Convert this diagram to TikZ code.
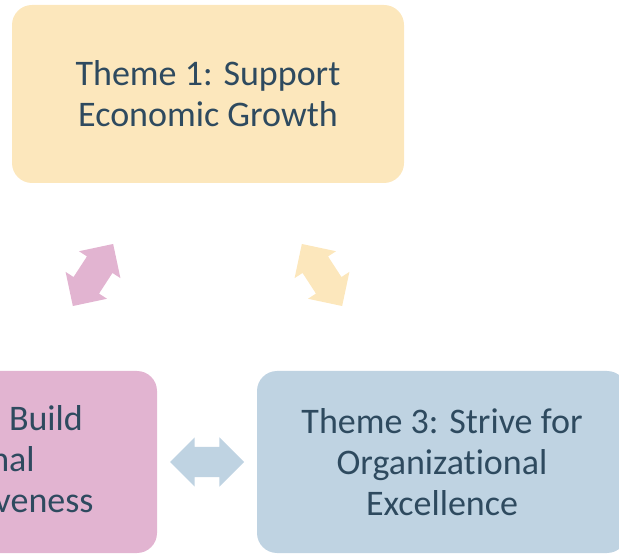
\documentclass[tikz,border=0pt]{standalone}
\usepackage{fontspec}
\setmainfont{Carlito}[Ligatures={NoCommon}]
\usetikzlibrary{calc,shapes.arrows}

\definecolor{themeyellow}{HTML}{FCE7BC}
\definecolor{themepink}{HTML}{E2B4D1}
\definecolor{themeblue}{HTML}{BFD3E2}
\definecolor{themetext}{HTML}{2E4A5F}

\tikzset{
  themebox/.style={rounded corners=20pt, inner sep=0pt, align=center,
    text=themetext, font=\fontsize{36}{41}\selectfont},
  cyclearrow/.style={double arrow, double arrow tip angle=90,
    double arrow head extend=9.5pt, minimum height=74pt,
    inner xsep=0pt, inner ysep=15pt}
}

\begin{document}
\begin{tikzpicture}[x=1pt,y=1pt]
\useasboundingbox (0,0) rectangle (619,555);
\clip (0,0) rectangle (619,555);
% the three themes
\node[themebox, fill=themeyellow, minimum width=392pt, minimum height=178pt] (growth) at (208,461) {Theme 1: Support\\Economic Growth};
\node[themebox, fill=themepink, minimum width=370pt, minimum height=182pt] (regional) at (-28,93) {Theme 2: Build\\Regional\\Competitiveness};
\node[themebox, fill=themeblue, minimum width=370pt, minimum height=182pt] (excellence) at (442,93) {Theme 3: Strive for\\Organizational\\Excellence};
% arrows between them
\node[cyclearrow, fill=themepink, rotate=57] (growthregional) at ($(growth)!0.5!(regional)+(3,3)$) {};
\node[cyclearrow, fill=themeyellow, rotate=-57] (growthexcellence) at ($(growth)!0.5!(excellence)+(-3,3)$) {};
\node[cyclearrow, fill=themeblue] (regionalexcellence) at ($(regional)!0.5!(excellence)$) {};
\end{tikzpicture}
\end{document}
